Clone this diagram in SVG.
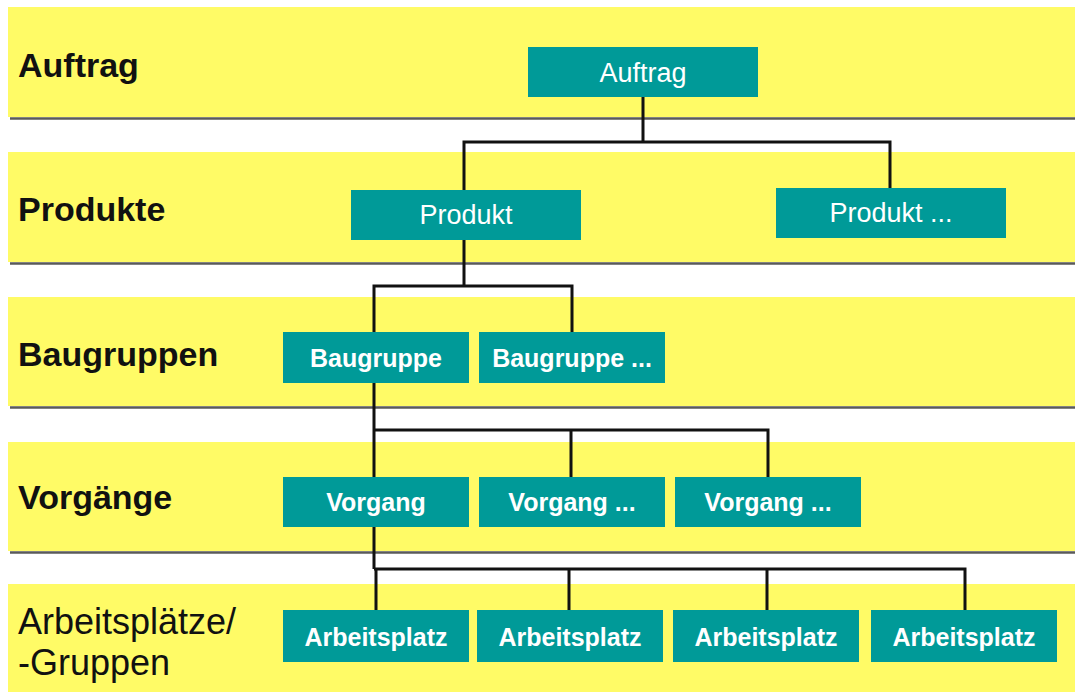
<svg xmlns="http://www.w3.org/2000/svg" width="1075" height="692" viewBox="0 0 1075 692">
<style>
.band{fill:#fffb66}
.shadow{stroke:#5a5a5a;stroke-width:2.5}
.lbl{font-family:"Liberation Sans",Arial,sans-serif;font-size:34px;font-weight:bold;fill:#111}
.lblr{font-family:"Liberation Sans",Arial,sans-serif;font-size:36px;fill:#111}
.node rect{fill:#009a98}
.nt{font-family:"Liberation Sans",Arial,sans-serif;font-size:27px;fill:#fff;text-anchor:middle}
.nb{font-family:"Liberation Sans",Arial,sans-serif;font-size:25px;font-weight:bold;fill:#fff;text-anchor:middle}
.conn{fill:none;stroke:#111;stroke-width:3}
</style>
<rect width="1075" height="692" fill="#fff"/>
<g id="bands">
<rect class="band" x="8" y="7" width="1067" height="110"/>
<line class="shadow" x1="10" y1="118.5" x2="1075" y2="118.5"/>
<rect class="band" x="8" y="152" width="1067" height="110"/>
<line class="shadow" x1="10" y1="263.5" x2="1075" y2="263.5"/>
<rect class="band" x="8" y="297" width="1067" height="109"/>
<line class="shadow" x1="10" y1="407.5" x2="1075" y2="407.5"/>
<rect class="band" x="8" y="442" width="1067" height="109"/>
<line class="shadow" x1="10" y1="552.5" x2="1075" y2="552.5"/>
<rect class="band" x="8" y="584" width="1067" height="108"/>
<text class="lbl" x="18" y="77">Auftrag</text>
<text class="lbl" x="18" y="221">Produkte</text>
<text class="lbl" x="18" y="366">Baugruppen</text>
<text class="lbl" x="18" y="509">Vorgänge</text>
<text class="lblr" x="18" y="634">Arbeitsplätze/</text>
<text class="lblr" x="18" y="675">-Gruppen</text>
</g>
<g id="connectors">
<path class="conn" d="M643,97 V142 M464,191 V142 H890 V189"/>
<path class="conn" d="M464,239 V286 M374,332 V286 H572 V332"/>
<path class="conn" d="M374,382 V477 M374,430 H768 V477 M571,430 V477"/>
<path class="conn" d="M374,527 V569 M376,569 V610 M374,569 H965 V610 M569,569 V610 M767,569 V610"/>
</g>
<g id="n-auftrag" class="node"><rect x="528" y="47" width="230" height="50"/><text class="nt" x="643" y="82">Auftrag</text></g>
<g id="n-produkt1" class="node"><rect x="351" y="190" width="230" height="50"/><text class="nt" x="466" y="224">Produkt</text></g>
<g id="n-produkt2" class="node"><rect x="776" y="188" width="230" height="50"/><text class="nt" x="891" y="222">Produkt ...</text></g>
<g id="n-baugruppe1" class="node"><rect x="283" y="332" width="186" height="51"/><text class="nb" x="376" y="367">Baugruppe</text></g>
<g id="n-baugruppe2" class="node"><rect x="479" y="332" width="186" height="51"/><text class="nb" x="572" y="367">Baugruppe ...</text></g>
<g id="n-vorgang1" class="node"><rect x="283" y="477" width="186" height="50"/><text class="nb" x="376" y="511">Vorgang</text></g>
<g id="n-vorgang2" class="node"><rect x="479" y="477" width="186" height="50"/><text class="nb" x="572" y="511">Vorgang ...</text></g>
<g id="n-vorgang3" class="node"><rect x="675" y="477" width="186" height="50"/><text class="nb" x="768" y="511">Vorgang ...</text></g>
<g id="n-ap1" class="node"><rect x="283" y="610" width="186" height="52"/><text class="nb" x="376" y="646">Arbeitsplatz</text></g>
<g id="n-ap2" class="node"><rect x="477" y="610" width="186" height="52"/><text class="nb" x="570" y="646">Arbeitsplatz</text></g>
<g id="n-ap3" class="node"><rect x="673" y="610" width="186" height="52"/><text class="nb" x="766" y="646">Arbeitsplatz</text></g>
<g id="n-ap4" class="node"><rect x="871" y="610" width="186" height="52"/><text class="nb" x="964" y="646">Arbeitsplatz</text></g>
</svg>
